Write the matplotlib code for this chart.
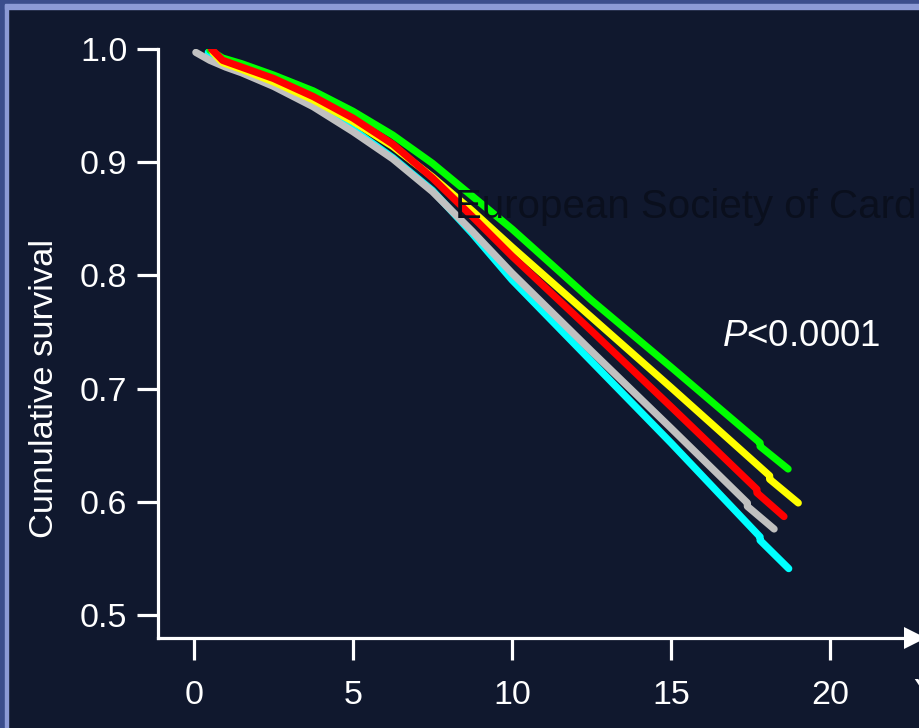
import matplotlib
matplotlib.use('Agg')
from matplotlib import pyplot as plt
from matplotlib.patches import Rectangle

plt.rcParams['font.family'] = ['Liberation Sans', 'DejaVu Sans']
plt.rcParams['mathtext.fontset'] = 'custom'
plt.rcParams['mathtext.it'] = 'Liberation Sans:italic'
plt.rcParams['mathtext.rm'] = 'Liberation Sans'

# follow-up (years) and cumulative survival
green_x = [0.5, 0.9, 1.5, 2.5, 3.75, 5.0, 6.25, 7.5, 8.75, 10.0, 12.5, 15.0, 17.8, 17.8, 18.68]
green_y = [0.999, 0.992, 0.987, 0.977, 0.963, 0.945, 0.924, 0.899, 0.870, 0.841, 0.778, 0.719,
           0.652, 0.649, 0.629]

yellow_x = [0.6, 0.9, 1.5, 2.5, 3.75, 5.0, 6.25, 7.5, 8.75, 10.0, 12.5, 15.0, 18.1, 18.1, 19.0]
yellow_y = [0.997, 0.988, 0.982, 0.971, 0.955, 0.936, 0.914, 0.887, 0.857, 0.825, 0.763, 0.701,
            0.623, 0.620, 0.599]

red_x = [0.55, 0.9, 1.5, 2.5, 3.75, 5.0, 6.25, 7.5, 8.75, 10.0, 12.5, 15.0, 17.7, 17.7, 18.55]
red_y = [1.000, 0.990, 0.984, 0.974, 0.958, 0.939, 0.916, 0.886, 0.852, 0.817, 0.751, 0.684,
         0.611, 0.608, 0.587]

gray_x = [0.06, 0.5, 1.0, 1.5, 2.5, 3.75, 5.0, 6.25, 7.5, 8.75, 10.0, 12.5, 15.0, 17.4, 17.4, 18.24]
gray_y = [0.997, 0.990, 0.984, 0.979, 0.967, 0.949, 0.927, 0.903, 0.874, 0.839, 0.802, 0.733,
          0.665, 0.599, 0.596, 0.576]

cyan_x = [0.45, 0.9, 1.5, 2.5, 3.75, 5.0, 6.25, 7.5, 8.75, 10.0, 12.5, 15.0, 17.8, 17.8, 18.7]
cyan_y = [0.997, 0.988, 0.982, 0.969, 0.951, 0.929, 0.904, 0.875, 0.837, 0.796, 0.724, 0.652,
          0.569, 0.566, 0.541]

x_ticks = [0, 5, 10, 15, 20]
y_ticks = [0.5, 0.6, 0.7, 0.8, 0.9, 1.0]

bg = '#10182e'
W, H = 919, 728

fig = plt.figure(figsize=(W / 100, H / 100), dpi=100, facecolor=bg)

# slide frame
fig.patches.append(Rectangle((0, 0), 5 / W, 1, transform=fig.transFigure, color='#3b4d8c', zorder=0))
fig.patches.append(Rectangle((5 / W, 0), 3 / W, 1 - 4 / H, transform=fig.transFigure, color='#8c9ad6', zorder=0))
fig.patches.append(Rectangle((0, 1 - 4 / H), 1, 4 / H, transform=fig.transFigure, color='#3b4d8c', zorder=0))
fig.patches.append(Rectangle((5 / W, 1 - 9 / H), 1, 5 / H, transform=fig.transFigure, color='#8c9ad6', zorder=0))

ax = fig.add_axes([158 / W, (H - 638) / H, (915 - 158) / W, (638 - 49) / H])
ax.set_facecolor(bg)

lw = 5.2
for xs, ys, c in [(cyan_x, cyan_y, '#00ffff'), (gray_x, gray_y, '#c0c0c0'),
                  (green_x, green_y, '#00ff00'), (yellow_x, yellow_y, '#ffff00'),
                  (red_x, red_y, '#ff0000')]:
    ax.plot(xs, ys, color=c, lw=lw, solid_capstyle='round', solid_joinstyle='round')

ax.set_xlim(-1.13, 22.67)
ax.set_ylim(0.4797, 1.0)

for s in ['top', 'right']:
    ax.spines[s].set_visible(False)
for s in ['left', 'bottom']:
    ax.spines[s].set_color('white')
    ax.spines[s].set_linewidth(2.3)
    ax.spines[s].set_capstyle('projecting')

ax.set_xticks(x_ticks)
ax.set_yticks(y_ticks)
ax.set_yticklabels(['%.1f' % v for v in y_ticks])
ax.tick_params(axis='both', colors='white', labelsize=24.5, width=2.3, direction='out')
ax.tick_params(axis='y', length=15, pad=7)
ax.tick_params(axis='x', length=16, pad=14)

# arrow head on the x axis
ax.plot([1.0], [0.0], marker='>', markersize=16, color='white', transform=ax.transAxes,
        clip_on=False, markeredgewidth=0)

ax.set_ylabel('Cumulative survival', color='white', fontsize=24.8)
ax.yaxis.set_label_coords(-0.129, 0.424)
fig.text(913 / W, 1 - 693 / H, 'Years', color='white', fontsize=24.5, ha='left', va='center')

fig.text(722 / W, 1 - 336 / H, r'$\mathit{P}$<0.0001', color='white', fontsize=26.5,
         ha='left', va='center')

fig.text(455 / W, 1 - 207 / H, 'European Society of Cardiology', color='#0a0f1d',
         fontsize=29, ha='left', va='center', zorder=5)

fig.savefig('out.png', dpi=100, facecolor=bg)
